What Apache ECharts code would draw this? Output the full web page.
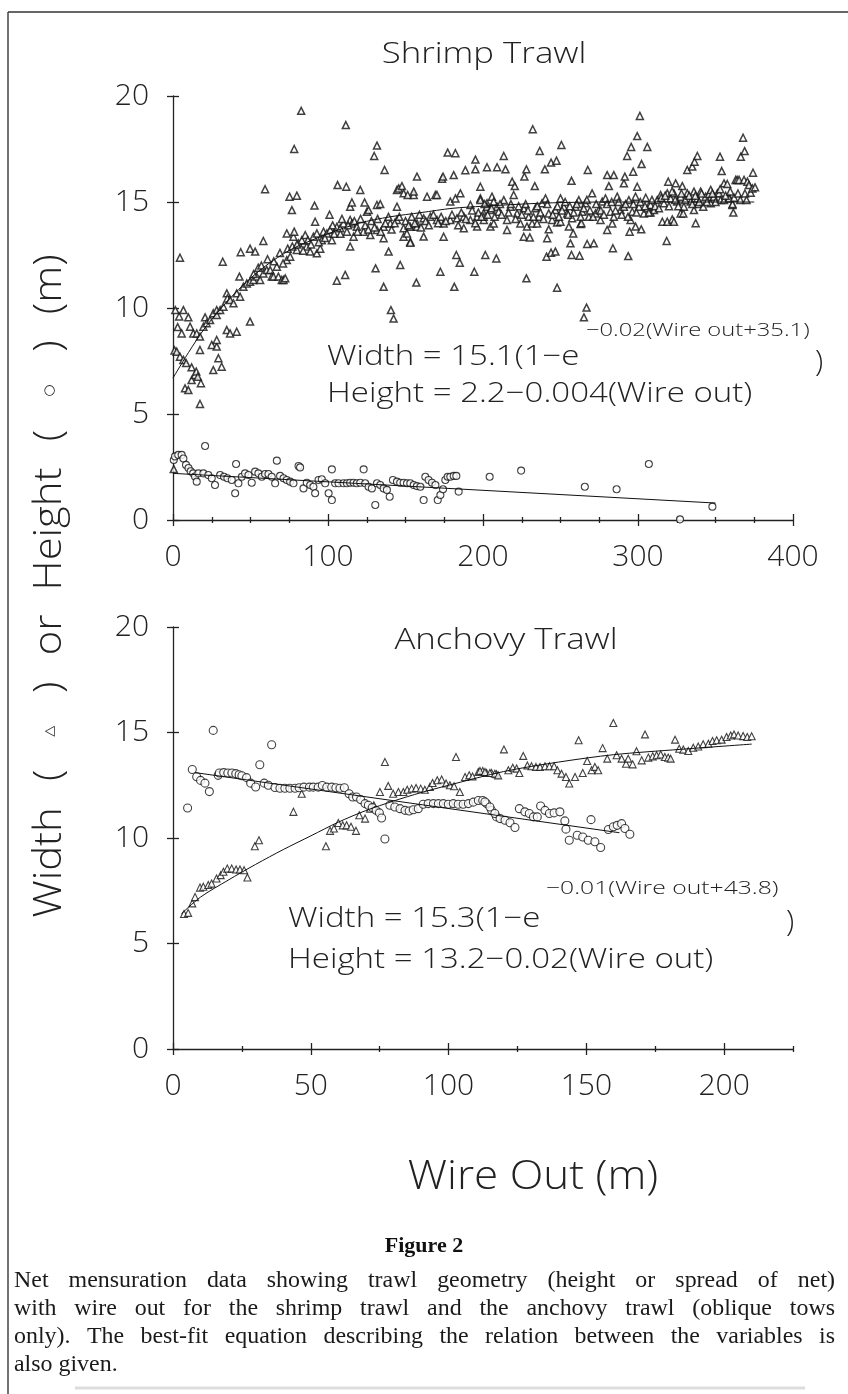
<!DOCTYPE html>
<html><head><meta charset="utf-8">
<script src="https://cdn.jsdelivr.net/npm/echarts@6/dist/echarts.min.js"></script>
<style>html,body{margin:0;padding:0;background:#fff}#c{width:848px;height:1394px}</style>
</head><body><div id="c"></div><script>
// ---------------- DATA ----------------
const shrimpTitle = 'Shrimp Trawl';
const anchovyTitle = 'Anchovy Trawl';
const shrimpXTicks = [0, 100, 200, 300, 400];
const shrimpXMinor = [25,50,75,125,150,175,225,250,275,325,350,375];
const anchovyXTicks = [0, 50, 100, 150, 200];
const anchovyXMinor = [25,75,125,175,225];
const yTicks = [0, 5, 10, 15, 20];

// Shrimp trawl: width (triangles) [wire out, m]
const shrimpWidth = [
[0.5,2.4],[1,8.0],[1.5,9.9],[2.4,7.94],[4.5,7.7],[4.5,12.37],[3,9.1],[5.6,8.8],[4,9.6],[6.7,7.55],[6.7,9.9],[7.75,6.21],[8.5,7.4],[9.9,6.13],[9.9,9.56],[11,9.12],[12,6.6],[12,7.2],[13.1,8.8],[14.2,6.84],[15,7.0],[15.3,8.8],[16,6.76],[17.4,8.02],[17.4,5.47],[17.4,8.65],[18,6.45],[19.6,9.12],[20.7,9.56],[21.7,9.28],[23.9,9.43],[25,8.26],[26,7.07],[26,9.75],[28.2,8.18],[28.2,8.49],[28.2,9.67],[28.2,9.9],[29.3,7.63],[30.4,9.9],[31.4,7.23],[32.1,12.18],[32.5,10.06],[34.7,8.96],[34.7,10.69],[35.1,10.45],[36.8,8.8],[36.8,10.38],[39,10.22],[41.1,8.88],[41.1,10.69],[42.85,11.48],[43.3,10.53],[43.7,12.63],[45.4,11.0],[47.6,11.16],[49.7,9.36],[49.7,11.24],[49.7,12.8],[51.9,11.32],[53,12.66],[54,11.48],[56.2,11.32],[58.3,11.63],[58.3,13.16],[59.4,15.6],[60.5,11.79],[62.7,11.79],[63.7,11.48],[64.8,11.48],[67,11.95],[68,11.48],[70.2,11.32],[71.3,11.32],[72.4,11.4],[73.4,12.26],[73.4,13.52],[75.2,15.25],[75.6,12.42],[76.7,14.62],[77.7,13.36],[78.2,17.5],[78.2,13.6],[79.9,12.74],[79.9,15.3],[81,13.05],[82.7,19.3],[83.1,13.2],[85.3,13.44],[86.3,12.9],[88.5,12.66],[90.6,13.36],[91.3,14.83],[91.7,14.07],[92.8,12.58],[92.8,13.52],[95,12.8],[96,13.2],[97.1,13.6],[99.3,13.52],[101,14.4],[101.4,13.68],[102.5,13.2],[105.7,13.83],[105.7,11.29],[106.2,15.8],[107.9,13.76],[110,13.99],[111.1,11.56],[111.5,18.63],[111.8,15.72],[112.2,13.6],[114.3,14.15],[114.3,12.9],[114.3,14.78],[115.4,14.98],[115.4,13.99],[116.5,13.36],[118.6,13.83],[120.8,15.57],[122.9,13.6],[123.6,14.98],[125.1,14.54],[126.2,14.62],[127.3,13.44],[129.8,17.17],[130.7,11.87],[131.6,17.66],[131.6,13.68],[131.6,14.86],[133.7,14.9],[135.9,13.83],[135.9,11.0],[135.9,13.29],[136.5,16.51],[139.1,12.66],[140.2,13.99],[140.6,9.9],[142.3,9.5],[144.5,14.15],[144.5,14.78],[144.5,15.57],[145.6,15.64],[146.6,12.03],[147.7,15.75],[148.8,13.76],[148.8,13.36],[148.8,15.41],[150.9,13.52],[151.4,15.33],[153.1,13.83],[153.1,13.13],[153.1,13.08],[155.3,15.33],[155.3,15.49],[157,11.2],[157.4,13.99],[157.4,16.2],[157.4,13.83],[161.7,14.23],[161.7,13.37],[163.9,15.25],[166,14.31],[169.3,15.33],[170.3,14.15],[170.3,15.33],[172.5,11.71],[173.6,16.1],[174.2,16.2],[174.6,13.99],[174.6,13.36],[177.2,17.33],[178.9,14.15],[178.9,15.02],[181.1,16.27],[181.5,11.0],[182.2,17.3],[182.2,15.17],[182.8,12.5],[183.2,14.23],[185,12.14],[185.4,15.41],[187.6,14.31],[187.6,13.76],[188.6,16.5],[191.9,14.15],[191.9,14.86],[194.4,11.71],[195.1,17.0],[195.1,16.54],[196.2,14.31],[196.2,13.84],[198.3,15.72],[198.3,15.17],[198.3,15.09],[200.5,14.47],[200.5,14.15],[200.5,14.3],[201.5,12.5],[202.6,16.64],[202.6,14.94],[202.6,14.78],[204.8,14.62],[204.8,13.84],[205.8,15.25],[206.9,15.02],[206.9,13.99],[208.6,12.34],[209.1,14.78],[209.1,16.64],[210.1,14.54],[213.4,15.09],[213.4,17.17],[214.5,16.54],[215.5,14.15],[215.5,13.68],[217.7,14.78],[218.8,15.96],[219.8,15.33],[220.5,15.75],[222,14.46],[224.1,13.99],[226.3,14.7],[226.3,13.36],[226.7,16.2],[228,16.54],[228,11.4],[228.4,13.84],[229.5,14.3],[230.2,13.33],[231.7,13.99],[232.1,18.43],[233.4,15.75],[233.8,14.7],[234.9,13.99],[236,14.3],[236.6,17.41],[238.1,14.94],[239.9,16.54],[240.3,15.17],[241,12.42],[241.4,13.29],[242.4,14.46],[242.4,13.71],[243.9,16.86],[243.9,12.61],[244.6,14.15],[246.7,14.62],[246.7,12.66],[247.4,16.95],[247.8,10.96],[247.8,14.03],[250,15.17],[250,14.07],[250.6,17.69],[252.1,14.78],[254.3,14.46],[255.4,13.84],[256.4,13.05],[257.1,16.0],[257.1,12.5],[257.5,14.23],[258.2,13.52],[259.7,14.78],[261.8,15.09],[262.3,12.47],[262.9,13.96],[263.5,14.0],[264,14.54],[265.1,9.56],[266.1,14.94],[266.8,10.02],[267.2,13.02],[267.6,16.51],[268.3,14.3],[270.4,15.41],[271.5,13.05],[272.6,14.46],[274.7,14.62],[275.8,14.15],[276.9,15.02],[279,15.17],[280.1,16.27],[280.1,13.68],[281.2,15.75],[282.3,14.54],[283.4,13.99],[283.8,12.82],[284.4,14.3],[284.4,16.27],[286.6,15.25],[288.7,14.62],[290.9,14.78],[290.9,15.88],[291.5,16.2],[293,17.17],[293.7,12.45],[294.1,15.09],[294.6,13.6],[295.2,14.15],[295.6,17.6],[296.3,14.54],[296.9,16.43],[298.4,15.25],[298.4,13.84],[299.5,18.11],[299.5,15.72],[300.6,14.78],[301.2,19.06],[302.1,13.71],[302.3,16.79],[303.8,14.46],[306,14.7],[306,17.6],[308.1,14.86],[308.1,14.5],[310.3,14.62],[312.4,15.09],[314.6,15.33],[315.7,14.07],[316.7,14.94],[318.5,13.16],[318.9,15.41],[318.9,14.07],[319.5,15.96],[321,15.17],[322.1,14.18],[323.2,15.41],[323.2,14.07],[324.3,15.88],[325.3,15.02],[327.5,15.25],[327.5,14.46],[328.6,15.75],[329.2,14.46],[329.6,14.78],[331.8,15.41],[331.8,16.51],[334,15.02],[335,16.67],[336.1,15.49],[336.1,14.62],[336.5,16.9],[337.2,14.0],[338.3,15.17],[338.3,17.17],[338.7,14.9],[340.4,15.49],[342.1,14.78],[343.6,15.25],[345.8,15.38],[346.9,15.57],[346.9,14.94],[349,15.25],[351.2,15.41],[352.3,15.41],[352.9,17.14],[353.3,15.09],[354,16.46],[355.5,15.09],[355.5,15.88],[357.6,15.85],[358.7,15.25],[358.7,15.17],[360.9,14.86],[361,14.9],[361.5,14.5],[363,16.04],[364,16.04],[365.2,16.04],[366.3,17.14],[367.8,18.03],[368.4,16.04],[368.8,17.4],[370.6,15.96],[371.6,15.8],[372.7,15.44],[373.8,15.64],[374.2,16.38],[375.5,15.69],
[103,13.9],[104,13.5],[108,13.5],[109,14.2],[113,13.9],[117,14.1],[119,13.6],[121,14.2],[124,13.9],[126,13.7],[128,14.1],[130,13.8],[132,14.2],[134,13.6],[137,14.0],[139,14.3],[141,13.7],[143,14.0],[146,14.3],[150,14.1],[152,13.9],[154,14.3],[156,14.0],[159,14.4],[160,13.8],[163,14.1],[165,13.9],[168,14.4],[171,14.0],[173,14.3],[176,14.1],[180,14.4],[184,13.9],[186,14.5],[189,14.2],[193,14.6],[195,14.0],[197,14.5],[199,14.3],
[52,11.6],[55,11.9],[57,12.0],[61,12.3],[65,12.2],[69,12.6],[71,12.1],[74,12.8],[77,12.9],[80,13.0],[84,12.7],[87,13.2],[89,13.0],[94,13.1],[98,13.3],
[201,14.9],[203,14.4],[205.5,14.7],[207.5,14.3],[211,14.9],[212,14.4],[216.5,14.5],[218,14.9],[221,14.2],[223,14.8],[225,14.4],[227.5,14.9],[229,14.6],[232.5,14.3],[235,14.8],[237,14.5],[239,14.2],[241.5,14.9],[245,14.4],[248,14.8],[249,14.3],[251,14.6],[253,15.0],[255,14.4],[256,14.8],[258.5,14.5],[260.5,14.9],[263,14.3],[265,14.7],[267,15.1],[269,14.6],[271,14.3],[273,14.9],[276,14.6],[278,14.4],[280,14.9],[283,15.0],[285.5,14.6],[287.5,15.0],[289.5,14.4],[292,14.9],[293.5,14.3],[297,14.9],[299,14.5],[301.5,15.0],[304.5,14.8],[305,15.2],[307,14.5],[309,15.1],[311,14.8],[313.5,14.7],[315,15.2],[317.5,15.3],[320,14.8],[322,15.5],[324,15.1],[326,14.8],[328,15.4],[330.5,15.1],[333,15.3],[335,14.9],[337,15.3],[339.5,15.0],[341,15.4],[344.5,15.0],[348,15.4],[350,15.0],[353,15.6],[356.5,15.3],[359.5,15.5],[362,15.2],[364.5,15.4],[366,15.1],[369,15.4],[370,15.1]
];
// Shrimp trawl: height (circles)
const shrimpHeight = [
[0.5,2.83],[1.3,3.0],[3.4,3.07],[5.6,3.07],[6.7,2.9],[8.4,2.6],[10,2.45],[11.4,2.3],[13,2.2],[14.2,2.05],[15.3,1.81],[20.7,3.49],
[16.4,2.2],[19.6,2.2],[22.8,2.12],[25,1.97],[27.1,1.65],[30.4,2.12],[32.9,2.04],[35.1,1.97],[37.9,1.89],[40.1,1.26],[40.7,2.64],[42.2,1.73],[44.4,2.04],[46.5,2.2],[48.7,2.12],[50.8,1.76],[53,2.28],[55.1,2.2],[57.3,2.04],[59.4,2.17],[61.6,2.17],[63.7,2.04],[65.9,1.73],[67,2.8],[69.1,2.08],[71.3,1.97],[73.4,1.89],[75.6,1.81],[77.7,1.73],[81,2.55],[82,2.48],[84.2,1.49],[86.3,1.76],[88.5,1.65],[90.6,1.57],[91.7,1.26],[93.9,1.89],[96,1.92],[98.2,1.73],[100.4,1.26],[102.5,0.94],[102.5,2.39],[104.6,1.73],[106.8,1.73],[110,1.73],[112.2,1.73],[114.3,1.76],[116.5,1.76],[118.6,1.73],[120.8,1.76],[123,2.39],[124,1.73],[126.2,1.57],[128.3,1.49],[130.5,0.71],[131.6,1.73],[133.7,1.65],[135.9,1.49],[138,1.42],[139.8,1.1],[141.9,1.89],[144.5,1.81],[146.6,1.76],[148.8,1.76],[151,1.73],[153.1,1.73],[155.3,1.65],[157.4,1.6],[159.6,1.57],[161.7,0.94],[162.8,2.04],[164.9,1.89],[167.1,1.76],[169.3,1.65],[170.8,0.94],[172.5,1.18],[174.2,1.45],[175.7,1.89],[177.2,2.04],[178.9,2.04],[181.1,2.08],[182.8,2.08],[184.3,1.34],
[204.3,2.04],[224.6,2.33],[265.7,1.57],[286.2,1.45],[307,2.64],[327.1,0.03],[348,0.63]
];
// Anchovy trawl: width (triangles)
const anchovyWidth = [
[4.0,6.4],[5.5,6.45],[7,6.9],[8,7.2],[9.8,7.65],[11.0,7.69],[12.8,7.77],[14.0,7.84],[15.8,8.08],[17.3,8.24],[18.3,8.4],[19.7,8.55],[21.3,8.55],[22.9,8.51],[24.3,8.51],[25.8,8.47],[27.0,8.13],[29.7,9.61],[31.2,9.89],[43.7,11.24],[46.7,12.1],[55.5,9.61],[57.0,10.34],[58.4,10.45],[60.0,10.71],[61.6,10.6],[63.0,10.6],[64.6,10.53],[66.4,10.34],[67.6,11.08],[69.7,10.92],[71.5,11.39],[72.9,11.55],[76.9,13.6],[75.1,12.18],[78.1,12.47],[79.9,12.1],[81.8,12.18],[83.6,12.18],[85.0,12.29],[86.6,12.34],[88.2,12.37],[89.9,12.34],[91.4,12.29],[93.2,12.42],[94.2,12.61],[95.9,12.74],[97.5,12.77],[99.1,12.58],[100.5,12.5],[102.0,12.45],[104.1,12.18],[102.7,13.84],[106.0,12.89],[107.5,12.97],[108.7,12.92],[110.8,13.13],[112.4,13.18],[113.8,13.08],[115.6,13.08],[117.4,13.02],
[111.4,13.18],[113.2,13.13],[115.0,13.08],[116.8,13.05],[118.0,12.97],[120.1,14.2],[121.7,13.21],[123.3,13.33],[124.7,13.29],[125.7,13.08],[127.1,13.89],[128.6,13.44],[130.1,13.4],[131.7,13.37],[133.2,13.37],[135.0,13.4],[136.6,13.4],[138.3,13.4],[139.5,13.21],[141.0,13.05],[142.6,12.89],[143.8,12.58],[145.9,12.89],[148.7,13.08],[147.2,14.63],[150.3,13.65],[151.9,13.21],[153.1,13.37],[154.3,13.21],[155.9,14.26],[157.6,13.76],[159.8,15.45],[161.0,13.92],[162.8,13.76],[164.4,13.52],[165.2,13.76],[166.8,13.49],[168.2,14.11],[170.1,13.68],[171.3,14.91],[172.5,13.81],[174.1,13.87],[175.5,13.92],[177.0,13.96],[178.5,13.84],[179.7,13.81],[180.6,13.76],[182.2,14.66],[183.7,14.23],[185.2,14.19],[187.0,14.12],[188.8,14.28],[190.6,14.34],[192.4,14.44],[194.3,14.47],[195.8,14.6],[197.3,14.63],[199.1,14.66],[200.9,14.79],[202.4,14.86],[203.6,14.91],[205.1,14.86],[206.9,14.83],[208.4,14.79],[210.0,14.82]
];
// Anchovy trawl: height (circles)
const anchovyHeight = [
[5.3,11.42],[7.0,13.25],[8.6,12.9],[10,12.73],[11.6,12.6],[13.2,12.2],[14.6,15.1],[16.4,12.97],[16.8,13.08],[18.4,13.1],[19.9,13.08],[21.4,13.08],[22.8,13.05],[24.0,13.0],[25.0,12.95],[26.7,12.86],[28.2,12.6],[30,12.42],[31.5,13.47],[33.1,12.6],[34.6,12.5],[35.8,14.42],
[37.0,12.39],[38.8,12.36],[40.6,12.36],[42.4,12.36],[44.3,12.36],[45.8,12.38],[47.5,12.41],[49.5,12.41],[50.9,12.41],[52.7,12.41],[54.2,12.49],[55.8,12.41],[57.6,12.41],[59.1,12.38],[60.6,12.36],[62.2,12.38],
[63.9,12.1],[65.2,11.94],[66.6,11.94],[68.1,11.82],[69.7,11.63],[70.9,11.55],[72.3,11.44],[73.7,11.31],[74.9,11.19],[75.7,10.95],[76.9,9.95],
[78.7,11.55],[80.5,11.47],[82.4,11.39],[84.2,11.31],[85.7,11.28],[87.2,11.34],[89.0,11.39],[90.8,11.6],[92.6,11.63],[94.5,11.63],[96.3,11.63],[98.1,11.63],[99.9,11.6],[101.7,11.63],[103.5,11.6],[105.3,11.6],[107.2,11.63],[109.0,11.7],[110.8,11.78],[112.4,11.78],[113.8,11.63],[115.6,11.31],[117.4,11.0],
[113.2,11.71],[115.0,11.47],[116.8,11.16],[118.7,10.92],[120.5,10.84],[122.3,10.72],[124.1,10.5],
[125.7,11.39],[127.7,11.24],[129.3,11.16],[130.8,11.0],[132.2,11.0],[133.4,11.52],[135.0,11.31],[136.6,11.16],[138.3,11.19],[140.4,11.24],
[142.2,10.81],[142.6,10.42],[143.8,9.89],[146.7,10.13],[148.7,10.05],[150.7,9.89],[153.1,9.82],[155.2,9.55],[151.7,10.87],
[158.0,10.4],[159.8,10.53],[161.2,10.6],[162.8,10.68],[164.0,10.45],[165.8,10.18]
];
// Fitted curves
const shrimpWidthFit = [[0,6.7],[10,7.9],[20,9.0],[30,9.9],[40,10.7],[50,11.4],[60,12.0],[70,12.5],[80,12.9],[100,13.5],[120,14.0],[140,14.3],[160,14.5],[180,14.7],[200,14.8],[240,14.95],[280,15.0],[320,15.0],[375,15.0]];
const shrimpHeightFit = [[0,2.2],[175,1.5],[350,0.8]];
const anchovyWidthFit = [[3,6.4],[10,7.2],[20,8.0],[30,8.75],[40,9.45],[50,10.1],[60,10.75],[70,11.3],[80,11.75],[90,12.15],[100,12.5],[120,13.15],[140,13.6],[160,13.95],[184,14.2],[210,14.45]];
const anchovyHeightFit = [[8,13.1],[162,10.25]];

const shrimpEq = ['Width = 15.1(1\u2212e', '\u22120.02(Wire out+35.1)', ')', 'Height = 2.2\u22120.004(Wire out)'];
const anchovyEq = ['Width = 15.3(1\u2212e', '\u22120.01(Wire out+43.8)', ')', 'Height = 13.2\u22120.02(Wire out)'];
const yTitle = '{w|Width} {p|(} {t|\u25B3} {p|)} {w|or} {w|Height} {p|(} {c|\u25CB} {p|)} {w|(m)}';
const xTitle = 'Wire Out (m)';
const figLabel = 'Figure 2';
const captionLines = [
 'Net mensuration data showing trawl geometry (height or spread of net)',
 'with wire out for the shrimp trawl and the anchovy trawl (oblique tows',
 'only). The best-fit equation describing the relation between the variables is',
 'also given.'
];

// ---------------- CHART ----------------
const FONT = "'Open Sans', 'DejaVu Sans', sans-serif";
const AX = '#222';
const chart = echarts.init(document.getElementById('c'), null, {renderer:'canvas', width:848, height:1394});

function xAxesFor(grid, max, major, minor, majorStep) {
  const base = {type:'value', gridIndex:grid, min:0, max:max, position:'bottom', splitLine:{show:false}, axisLine:{show:false, onZero:false}};
  const tl = {color:AX, width:1.3};
  return [
    Object.assign({}, base, {interval:majorStep, axisLine:{show:true,onZero:false,lineStyle:{color:AX,width:1.3}},
      axisTick:{show:true,length:6,customValues:major,lineStyle:tl},
      axisLabel:{show:true,customValues:major,margin:22,fontSize:30,fontFamily:FONT,fontWeight:300,color:'#222'}}),
    Object.assign({}, base, {interval:majorStep, axisTick:{show:true,inside:true,length:6,customValues:major,lineStyle:tl}, axisLabel:{show:false}}),
    Object.assign({}, base, {interval:25, axisTick:{show:true,length:3,customValues:minor,lineStyle:tl}, axisLabel:{show:false}}),
    Object.assign({}, base, {interval:25, axisTick:{show:true,inside:true,length:3,customValues:minor,lineStyle:tl}, axisLabel:{show:false}})
  ];
}
function yAxesFor(grid) {
  const base = {type:'value', gridIndex:grid, min:0, max:20, interval:5, position:'left', splitLine:{show:false}, axisLine:{show:false,onZero:false}};
  const tl = {color:AX, width:1.3};
  return [
    Object.assign({}, base, {axisLine:{show:true,onZero:false,lineStyle:{color:AX,width:1.3}},
      axisTick:{show:true,length:6,customValues:yTicks,lineStyle:tl},
      axisLabel:{show:true,customValues:yTicks,margin:24,fontSize:30,fontFamily:FONT,fontWeight:300,color:'#222'}}),
    Object.assign({}, base, {axisTick:{show:true,inside:true,length:6,customValues:yTicks,lineStyle:tl}, axisLabel:{show:false}})
  ];
}

const tri = {color:'#fff', borderColor:'#111', borderWidth:1.5};
const circ = {color:'#fff', borderColor:'#111', borderWidth:1.1};
const fitLine = {color:'#111', width:1};

function txt(x, y, text, size, sx, opts) {
  return {type:'text', x:x, y:y, scaleX:sx, silent:true, style:Object.assign({text:text, fontSize:size, fontFamily:FONT, fontWeight:300, fill:'#222', align:'left', verticalAlign:'middle'}, opts||{})};
}

// caption: justify by measuring words
const measure = document.createElement('canvas').getContext('2d');
const capSize = 23;
const capFont = capSize + "px 'Liberation Serif', 'Times New Roman', serif";
measure.font = capFont;
const capX0 = 14, capX1 = 835, capY0 = 1281, capLH = 28;
const captionEls = [];
let lastScale = 1.0;
captionLines.forEach(function(line, i){
  const words = line.split(' ');
  const y = capY0 + i*capLH;
  const ws = words.map(function(w){return measure.measureText(w).width;});
  const tot = ws.reduce(function(a,b){return a+b;},0);
  const spaceW = measure.measureText(' ').width;
  const last = (i === captionLines.length - 1);
  let s, gap;
  if (last) { s = lastScale; gap = spaceW * s; }
  else {
    const natural = tot + spaceW*(words.length-1);
    s = Math.min(1.04, (capX1-capX0)/natural);
    lastScale = s;
    gap = (capX1 - capX0 - tot*s)/(words.length-1);
  }
  let x = capX0;
  words.forEach(function(w,k){
    captionEls.push({type:'text', x:x, y:y, scaleX:s, silent:true, style:{text:w, font:capFont, fill:'#1a1a1a', align:'left', verticalAlign:'middle'}});
    x += ws[k]*s + gap;
  });
});

const symStyle = {fontSize:13, fontFamily:"'DejaVu Sans', sans-serif", fill:'#222', padding:[0,12]};
const option = {
  backgroundColor:'#fff',
  animation:false,
  grid:[
    {left:173, top:96, width:620, height:424, containLabel:false, outerBoundsMode:'none'},
    {left:173, top:627, width:620, height:422, containLabel:false, outerBoundsMode:'none'}
  ],
  xAxis: xAxesFor(0, 400, shrimpXTicks, shrimpXMinor, 100).concat(xAxesFor(1, 225, anchovyXTicks, anchovyXMinor, 25)),
  yAxis: yAxesFor(0).concat(yAxesFor(1)),
  series:[
    {type:'scatter', name:'Shrimp width', xAxisIndex:0, yAxisIndex:0, data:shrimpWidth, symbol:'triangle', symbolSize:7, itemStyle:tri, silent:true},
    {type:'scatter', name:'Shrimp height', xAxisIndex:0, yAxisIndex:0, data:shrimpHeight, symbol:'circle', symbolSize:7, itemStyle:circ, silent:true},
    {type:'line', name:'Shrimp width fit', xAxisIndex:0, yAxisIndex:0, data:shrimpWidthFit, showSymbol:false, smooth:0.3, lineStyle:fitLine, z:3, silent:true},
    {type:'line', name:'Shrimp height fit', xAxisIndex:0, yAxisIndex:0, data:shrimpHeightFit, showSymbol:false, lineStyle:fitLine, z:3, silent:true},
    {type:'scatter', name:'Anchovy width', xAxisIndex:4, yAxisIndex:2, data:anchovyWidth, symbol:'triangle', symbolSize:7, itemStyle:{color:'#fff',borderColor:'#111',borderWidth:1.1}, silent:true},
    {type:'scatter', name:'Anchovy height', xAxisIndex:4, yAxisIndex:2, data:anchovyHeight, symbol:'circle', symbolSize:8, itemStyle:circ, silent:true},
    {type:'line', name:'Anchovy width fit', xAxisIndex:4, yAxisIndex:2, data:anchovyWidthFit, showSymbol:false, smooth:0.3, lineStyle:fitLine, z:3, silent:true},
    {type:'line', name:'Anchovy height fit', xAxisIndex:4, yAxisIndex:2, data:anchovyHeightFit, showSymbol:false, lineStyle:fitLine, z:3, silent:true}
  ],
  graphic:[
    {type:'line', silent:true, shape:{x1:8,y1:12,x2:848,y2:12}, style:{stroke:'#333', lineWidth:1.5}},
    {type:'line', silent:true, shape:{x1:8,y1:12,x2:8,y2:1394}, style:{stroke:'#444', lineWidth:1.5}},
    {type:'line', silent:true, shape:{x1:75,y1:1388,x2:805,y2:1388}, style:{stroke:'#ddd', lineWidth:3}},
    txt(484, 55, shrimpTitle, 29, 1.2, {align:'center'}),
    txt(506, 641, anchovyTitle, 29, 1.2, {align:'center'}),
    txt(327, 357, shrimpEq[0], 28, 1.18),
    txt(586, 331, shrimpEq[1], 19, 1.25),
    txt(815, 362, shrimpEq[2], 30, 1),
    txt(327, 394, shrimpEq[3], 28, 1.18),
    txt(288, 919, anchovyEq[0], 28, 1.18),
    txt(546, 889, anchovyEq[1], 19, 1.3),
    txt(786, 922, anchovyEq[2], 30, 1),
    txt(288, 960, anchovyEq[3], 28, 1.18),
    {type:'text', x:50, y:586, rotation:Math.PI/2, scaleX:1.1, silent:true,
      style:{text:yTitle, fontSize:38, fontFamily:FONT, fontWeight:300, fill:'#222', align:'center', verticalAlign:'middle',
        rich:{w:{fontSize:38, fontFamily:FONT, fontWeight:300, fill:'#222', padding:[0,6]},
              p:{fontSize:38, fontFamily:FONT, fontWeight:300, fill:'#222', padding:[0,8]},
              t:symStyle, c:symStyle}}},
    txt(533, 1178, xTitle, 40, 1.1, {align:'center'}),
    {type:'text', x:424, y:1246, silent:true, style:{text:figLabel, font:"bold 22px 'Liberation Serif', serif", fill:'#111', align:'center', verticalAlign:'middle'}}
  ].concat(captionEls)
};
chart.setOption(option);
</script></body></html>
